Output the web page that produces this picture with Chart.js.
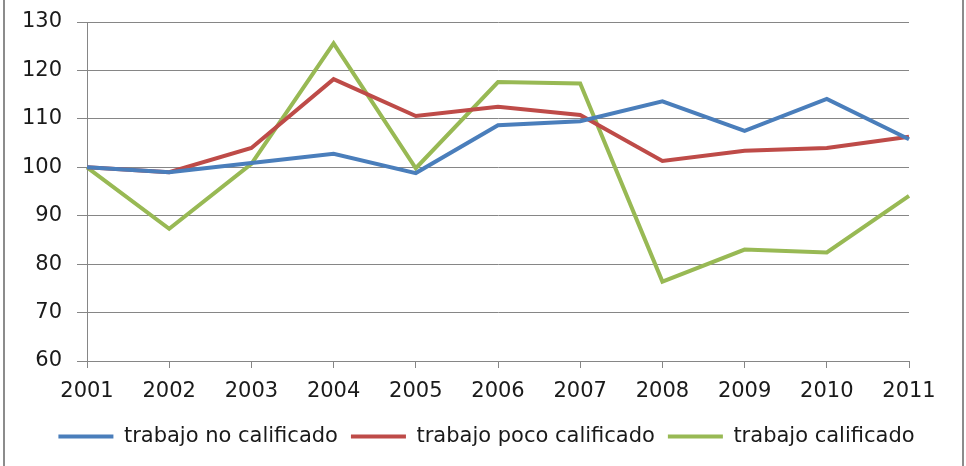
<!DOCTYPE html>
<html>
<head>
<meta charset="utf-8">
<script src="https://cdn.jsdelivr.net/npm/chart.js@4"></script>
<style>
    body { margin: 0; background: #fff; }
    #wrap { position: relative; width: 966px; height: 466px; }
    #wrap canvas { position: absolute; left: 0; top: 0; }
    .edge { position: absolute; top: 0; width: 2px; height: 466px; background: #8c8c8c; }
</style>
</head>
<body>
<div id="wrap">
    <canvas id="chart" width="966" height="466"></canvas>
    <div class="edge" style="left:3px"></div>
    <div class="edge" style="left:962px"></div>
</div>
<script>
const years = ['2001', '2002', '2003', '2004', '2005', '2006', '2007', '2008', '2009', '2010', '2011'];
const noCalificado = [100, 99.0, 100.9, 102.8, 98.8, 108.7, 109.5, 113.6, 107.5, 114.1, 105.8];
const pocoCalificado = [100, 99.0, 104.0, 118.2, 110.6, 112.5, 110.8, 101.3, 103.4, 104.0, 106.3];
const calificado = [100, 87.3, 100.7, 125.6, 99.8, 117.6, 117.3, 76.4, 83.0, 82.4, 94.1];

const axisColor = '#868686';
const textColor = '#1a1a1a';
const fontFamily = '"DejaVu Sans", sans-serif';

function lineSet(label, data, color) {
    return {
        label: label,
        data: data,
        borderColor: color,
        backgroundColor: color,
        borderWidth: 4,
        pointRadius: 0,
        tension: 0
    };
}

// legend in the source is centred on the whole picture, not on the plot
const shiftLegend = {
    id: 'shiftLegend',
    afterLayout(chart) {
        chart.legend.left += 27;
        chart.legend.right += 27;
    }
};

new Chart(document.getElementById('chart').getContext('2d'), {
    type: 'line',
    data: {
        labels: years,
        datasets: [
            lineSet('trabajo no calificado', noCalificado, '#4a7ebb'),
            lineSet('trabajo poco calificado', pocoCalificado, '#be4b48'),
            lineSet('trabajo calificado', calificado, '#98b954')
        ]
    },
    plugins: [shiftLegend],
    options: {
        responsive: false,
        animation: false,
        layout: { padding: { left: 10, right: 57, top: 22, bottom: 9 } },
        plugins: {
            tooltip: { enabled: false },
            legend: {
                position: 'bottom',
                labels: {
                    boxWidth: 55,
                    boxHeight: 0,
                    padding: 13,
                    color: textColor,
                    font: { family: fontFamily, size: 21 }
                }
            }
        },
        scales: {
            x: {
                offset: false,
                grid: { drawOnChartArea: false, drawTicks: true, tickLength: 7, color: axisColor, offset: false },
                border: { color: axisColor },
                ticks: { color: textColor, font: { family: fontFamily, size: 21 }, maxRotation: 0, padding: 11 },
                afterFit: s => { s.height = 52; }
            },
            y: {
                min: 60,
                max: 130,
                ticks: { stepSize: 10, color: textColor, font: { family: fontFamily, size: 21 }, padding: 15 },
                grid: { color: axisColor, tickLength: 10 },
                border: { color: axisColor },
                afterFit: s => { s.width = 77; s.paddingTop = 0; s.paddingBottom = 0; }
            }
        }
    }
});
</script>
</body>
</html>
